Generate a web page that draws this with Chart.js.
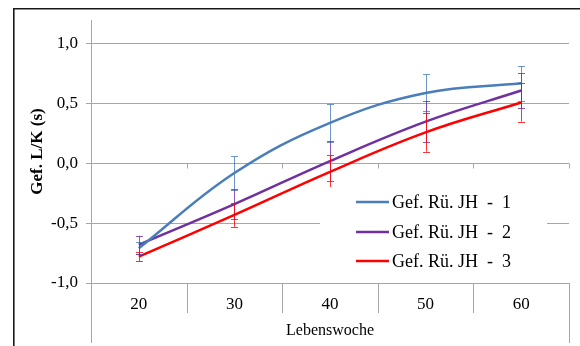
<!DOCTYPE html>
<html>
<head>
<meta charset="utf-8">
<script src="https://cdn.jsdelivr.net/npm/chart.js@4.4.1/dist/chart.umd.min.js"></script>
<style>
  html, body { margin: 0; padding: 0; background: #fff; }
  #wrap { width: 580px; height: 346px; }
</style>
</head>
<body>
<div id="wrap"><canvas id="c" width="580" height="346"></canvas></div>
<script>
// Lebenswoche (age in weeks)
const weeks = ['20', '30', '40', '50', '60'];

// Mean values per group
const jh1 = [-0.71, -0.08, 0.34, 0.59, 0.67];
const jh2 = [-0.68, -0.34, 0.02, 0.35, 0.61];
const jh3 = [-0.78, -0.43, -0.07, 0.26, 0.51];

// Standard deviations (error bars)
const sd1 = [0.05, 0.14, 0.16, 0.155, 0.145];
const sd2 = [0.075, 0.125, 0.165, 0.17, 0.145];
const sd3 = [0.04, 0.10, 0.14, 0.16, 0.16];

const seriesLabels = ['Gef. Rü. JH  -  1', 'Gef. Rü. JH  -  2', 'Gef. Rü. JH  -  3'];
const seriesColors = ['#4a7ebb', '#7030a0', '#ff0000'];
const seriesErrors = [sd1, sd2, sd3];

const yTickValues = [-1.0, -0.5, 0.0, 0.5, 1.0];

const SERIF = '"Liberation Serif", "Times New Roman", serif';
const GRID = '#a6a6a6';

function hexAlpha(hex, a) {
  const n = parseInt(hex.slice(1), 16);
  return `rgba(${(n >> 16) & 255},${(n >> 8) & 255},${n & 255},${a})`;
}

const decorations = {
  id: 'decorations',
  beforeDraw(chart) {
    const ctx = chart.ctx;
    ctx.save();
    ctx.fillStyle = '#fff';
    ctx.fillRect(0, 0, chart.width, chart.height);
    // outer frame
    ctx.strokeStyle = '#1a1a1a';
    ctx.lineWidth = 1.6;
    ctx.beginPath();
    ctx.moveTo(13.8, chart.height);
    ctx.lineTo(13.8, 8.8);
    ctx.lineTo(chart.width, 8.8);
    ctx.stroke();
    ctx.restore();
  },
  afterDatasetsDraw(chart) {
    const ctx = chart.ctx;
    const x = chart.scales.x, y = chart.scales.y;
    const area = chart.chartArea;
    ctx.save();

    // small category ticks along the zero line
    ctx.strokeStyle = GRID;
    ctx.lineWidth = 1;
    const y0 = Math.round(y.getPixelForValue(0)) + 0.5;
    for (let i = 0; i < weeks.length; i++) {
      const bx = Math.round((x.getPixelForValue(i) + x.getPixelForValue(i) + (x.getPixelForValue(1) - x.getPixelForValue(0))) / 2) + 0.5;
      ctx.beginPath();
      ctx.moveTo(bx, y0);
      ctx.lineTo(bx, y0 + 5);
      ctx.stroke();
    }

    // error bars
    chart.data.datasets.forEach((ds, di) => {
      const err = seriesErrors[di];
      ctx.strokeStyle = hexAlpha(seriesColors[di], 0.8);
      ctx.lineWidth = 1;
      ds.data.forEach((v, i) => {
        const px = Math.round(x.getPixelForValue(i)) + 0.5;
        const top = y.getPixelForValue(v + err[i]);
        const bot = y.getPixelForValue(v - err[i]);
        ctx.beginPath();
        ctx.moveTo(px, top);
        ctx.lineTo(px, bot);
        ctx.moveTo(px - 3.5, Math.round(top) + 0.5);
        ctx.lineTo(px + 3.5, Math.round(top) + 0.5);
        ctx.moveTo(px - 3.5, Math.round(bot) + 0.5);
        ctx.lineTo(px + 3.5, Math.round(bot) + 0.5);
        ctx.stroke();
      });
    });

    // category dividers below the plot
    const step = x.getPixelForValue(1) - x.getPixelForValue(0);
    ctx.strokeStyle = GRID;
    ctx.lineWidth = 1;
    for (let i = 0; i <= weeks.length; i++) {
      const bx = Math.round(area.left + i * step) + 0.5;
      const outer = (i === 0 || i === weeks.length);
      ctx.beginPath();
      ctx.moveTo(bx, area.bottom);
      ctx.lineTo(bx, outer ? chart.height - 3 : area.bottom + 30);
      ctx.stroke();
    }

    // legend
    ctx.fillStyle = '#fff';
    ctx.fillRect(320, 187, 227, 90);
    ctx.font = '18px ' + SERIF;
    ctx.textBaseline = 'middle';
    ctx.textAlign = 'left';
    const rows = [202, 232, 261];
    seriesLabels.forEach((lab, i) => {
      ctx.strokeStyle = seriesColors[i];
      ctx.lineWidth = 2.5;
      ctx.beginPath();
      ctx.moveTo(356, rows[i]);
      ctx.lineTo(389, rows[i]);
      ctx.stroke();
      ctx.fillStyle = '#000';
      ctx.fillText(lab, 392, rows[i] + 1);
    });
    ctx.restore();
  }
};

new Chart(document.getElementById('c'), {
  type: 'line',
  data: {
    labels: weeks,
    datasets: [jh1, jh2, jh3].map((d, i) => ({
      label: seriesLabels[i],
      data: d,
      borderColor: seriesColors[i],
      backgroundColor: seriesColors[i],
      borderWidth: 2.5,
      pointRadius: 0,
      tension: 0.4,
      fill: false
    }))
  },
  options: {
    responsive: false,
    animation: false,
    devicePixelRatio: 1,
    layout: { padding: { top: 20, right: 11, left: 0, bottom: 0 } },
    plugins: { legend: { display: false }, tooltip: { enabled: false } },
    scales: {
      x: {
        type: 'category',
        offset: true,
        grid: { display: false, drawTicks: false, tickLength: 0 },
        border: { display: false },
        ticks: { font: { family: SERIF, size: 17 }, color: '#000', padding: 11, maxRotation: 0 },
        title: { display: true, text: 'Lebenswoche', font: { family: SERIF, size: 16 }, color: '#000', padding: { top: 0, bottom: 6 } },
        afterFit(s) { s.height = 63; }
      },
      y: {
        min: -1.0,
        max: 1.2,
        grid: { color: GRID, tickLength: 5, lineWidth: 1 },
        border: { display: true, color: GRID },
        ticks: {
          stepSize: 0.5,
          font: { family: SERIF, size: 17 },
          color: '#000',
          padding: 8,
          callback: v => v.toFixed(1).replace('.', ',')
        },
        afterBuildTicks(s) {
          s.ticks = yTickValues.map(v => ({ value: v }));
        },
        title: { display: true, text: 'Gef. L/K (s)', font: { family: SERIF, size: 17, weight: 'bold' }, color: '#000', padding: { top: 27, bottom: 0 } },
        afterFit(s) { s.width = 91; }
      }
    }
  },
  plugins: [decorations]
});
</script>
</body>
</html>
